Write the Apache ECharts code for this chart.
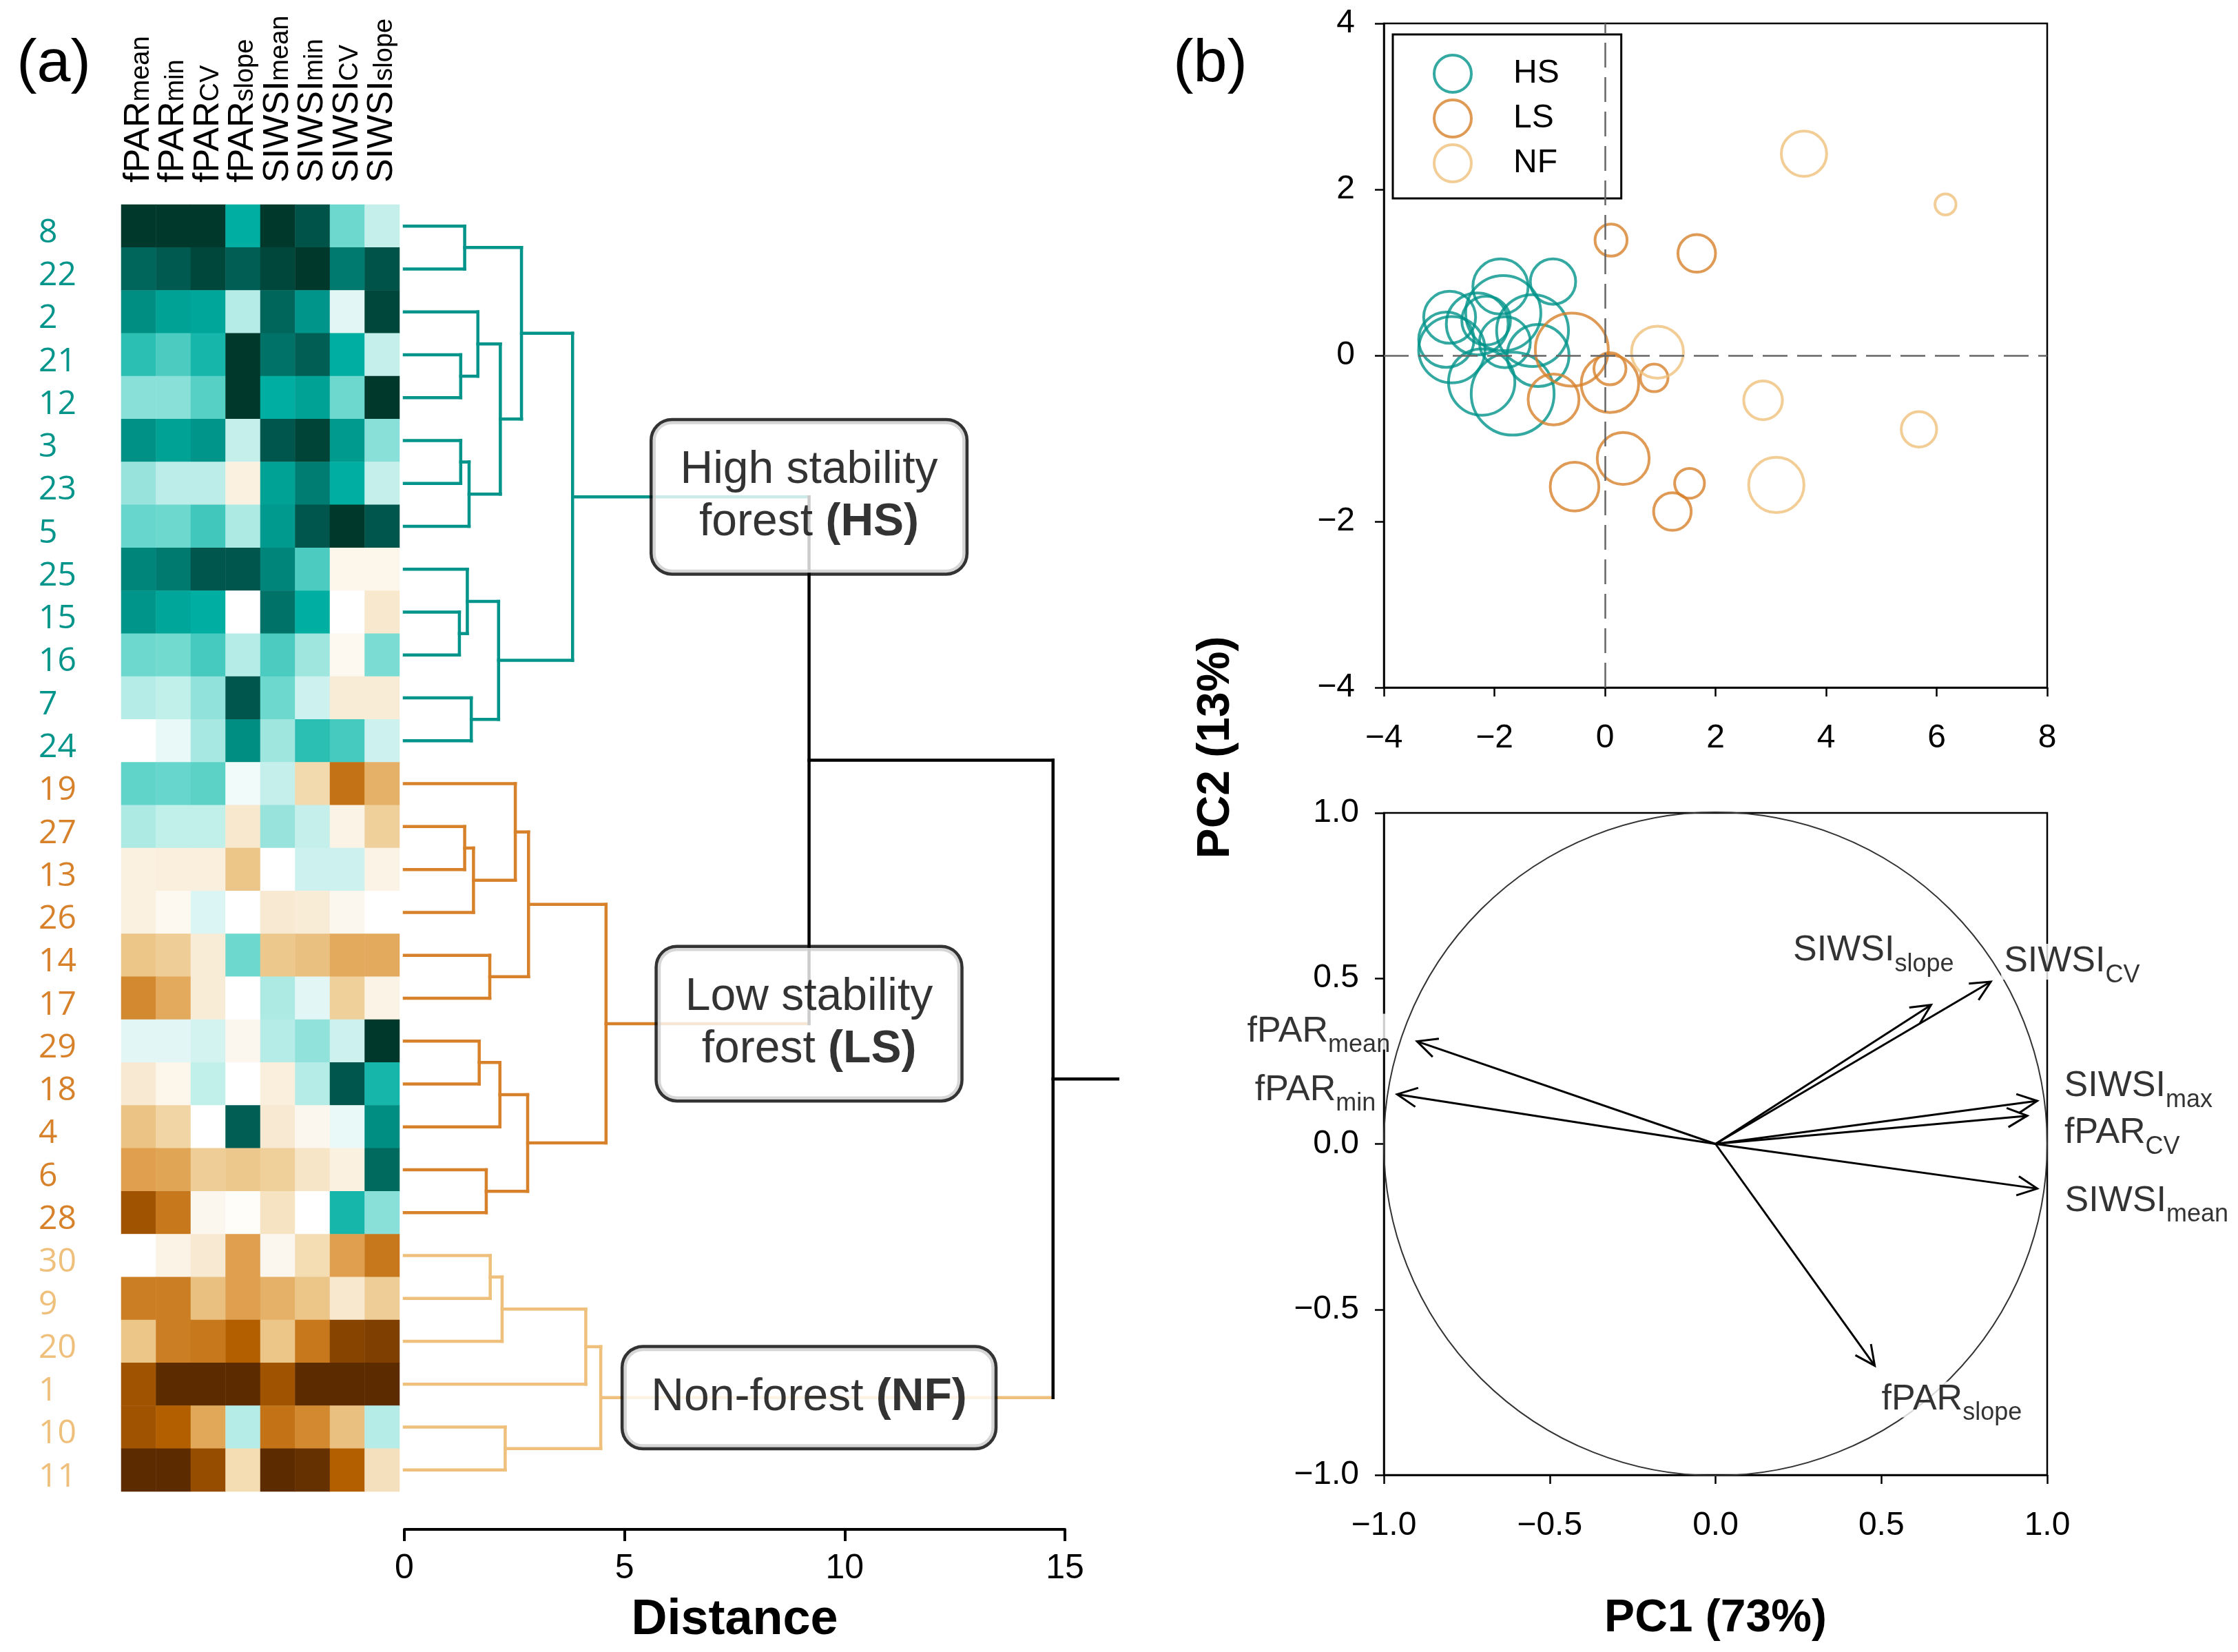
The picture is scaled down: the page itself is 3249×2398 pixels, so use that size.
<!DOCTYPE html>
<html>
<head>
<meta charset="utf-8">
<script src="https://cdn.jsdelivr.net/npm/echarts/dist/echarts.min.js"></script>
<style>html,body{margin:0;padding:0;background:#fff}#c{width:3249px;height:2398px}</style>
</head>
<body>
<div id="c"></div>
<script>
// ---------------- DATA ----------------
const siteLabels = ['8','22','2','21','12','3','23','5','25','15','16','7','24',
  '19','27','13','26','14','17','29','18','4','6','28',
  '30','9','20','1','10','11'];
const siteGroups = ['HS','HS','HS','HS','HS','HS','HS','HS','HS','HS','HS','HS','HS',
  'LS','LS','LS','LS','LS','LS','LS','LS','LS','LS','LS',
  'NF','NF','NF','NF','NF','NF'];
const variableMain = ['fPAR','fPAR','fPAR','fPAR','SIWSI','SIWSI','SIWSI','SIWSI'];
const variableSub  = ['mean','min','CV','slope','mean','min','CV','slope'];

// standardized scores per site (rows) and variable (columns)
const standardizedScores = [
  [5, 5, 5, 2, 5, 4.3, 1, 0.4],
  [3.8, 4.1, 4.6, 4, 4.6, 5, 3.3, 4.3],
  [2.8, 2.3, 2.2, 0.5, 3.8, 2.6, 0.2, 4.6],
  [1.6, 1.3, 1.8, 5, 3.5, 4, 2, 0.4],
  [0.8, 0.8, 1.2, 5, 2, 2.3, 1, 5],
  [2.7, 2.3, 2.6, 0.4, 4.2, 4.7, 2.5, 0.8],
  [0.7, 0.45, 0.45, -0.3, 2.3, 3.2, 2, 0.4],
  [1.05, 1, 1.4, 0.55, 2.5, 4.2, 5, 4.2],
  [3, 3.3, 4.2, 4.2, 3, 1.3, -0.2, -0.2],
  [2.6, 2.2, 2, 0, 3.5, 2, 0, -0.5],
  [1, 0.95, 1.35, 0.5, 1.3, 0.65, -0.15, 0.9],
  [0.5, 0.42, 0.75, 4.2, 1, 0.35, -0.4, -0.4],
  [0, 0.15, 0.6, 2.8, 0.65, 1.6, 1.35, 0.35],
  [1.1, 1.05, 1.15, 0.1, 0.4, -0.8, -2.7, -1.6],
  [0.55, 0.42, 0.42, -0.5, 0.7, 0.4, -0.25, -1],
  [-0.3, -0.35, -0.35, -1.2, 0, 0.35, 0.35, -0.25],
  [-0.3, -0.15, 0.25, 0, -0.45, -0.4, -0.17, 0],
  [-1.2, -1.05, -0.4, 1, -1.15, -1.3, -1.7, -1.7],
  [-2.3, -1.7, -0.4, 0, 0.55, 0.2, -1, -0.25],
  [0.2, 0.2, 0.3, -0.17, 0.5, 0.75, 0.35, 5],
  [-0.45, -0.2, 0.42, 0, -0.35, 0.5, 4.2, 1.8],
  [-1.25, -0.9, 0, 4, -0.45, -0.17, 0.15, 2.8],
  [-1.9, -1.8, -1.05, -1.15, -1, -0.55, -0.3, 3.7],
  [-3.5, -2.6, -0.17, -0.05, -0.6, 0, 1.8, 0.8],
  [0, -0.25, -0.45, -1.9, -0.17, -0.75, -1.9, -2.6],
  [-2.5, -2.5, -1.3, -1.9, -1.6, -1.2, -0.5, -1.05],
  [-1.2, -2.5, -2.6, -3.1, -1.2, -2.6, -4, -4.2],
  [-3.5, -5, -5, -5, -3.5, -5, -5, -5],
  [-3.5, -3.1, -1.75, 0.5, -2.7, -2.3, -1.3, 0.5],
  [-5, -5, -3.7, -0.75, -5, -4.8, -3.1, -0.65]
];

// hierarchical clustering merges: [childA, childB, distance]; 'mK' = result of merge K
const dendroMerges = [
  ['8','22',1.37], ['21','12',1.28], ['2','m1',1.67], ['3','23',1.28], ['m3','5',1.47],
  ['m2','m4',2.18], ['m0','m5',2.66], ['15','16',1.25], ['25','m7',1.43], ['7','24',1.52],
  ['m8','m9',2.14], ['m6','m10',3.82],
  ['27','13',1.37], ['m12','26',1.57], ['19','m13',2.52], ['14','17',1.94], ['m14','m15',2.82],
  ['29','18',1.70], ['m17','4',2.17], ['6','28',1.86], ['m18','m19',2.80], ['m16','m20',4.58],
  ['30','9',1.95], ['m22','20',2.22], ['m23','1',4.12], ['10','11',2.29], ['m24','m25',4.46],
  ['m11','m21',9.19], ['m27','m26',14.73]
];
const dendroRootStubEnd = 16.2;
const distanceTicks = [0, 15, 5];   // min, max, interval
const clusterNames = {HS:['High stability','forest ','(HS)'], LS:['Low stability','forest ','(LS)'], NF:['Non-forest ','(NF)']};
const clusterTopMerge = {HS:'m11', LS:'m21', NF:'m26'};

// PCA site scores: [PC1, PC2, bubble radius in PC1 units]
const pcaHS = [[-0.94,0.89,0.41],[-1.89,0.83,0.50],[-1.84,0.51,0.68],[-2.81,0.46,0.47],[-2.15,0.42,0.44],
  [-1.31,0.30,0.65],[-2.87,0.19,0.50],[-1.81,0.16,0.46],[-2.77,0.07,0.60],[-1.21,0.00,0.56],
  [-2.23,-0.32,0.60],[-1.67,-0.46,0.75],[-2.31,0.38,0.56]];
const pcaLS = [[0.11,1.39,0.29],[1.66,1.23,0.34],[-0.60,0.07,0.66],[0.09,-0.16,0.29],[0.09,-0.34,0.52],
  [0.89,-0.27,0.25],[-0.93,-0.53,0.46],[0.33,-1.24,0.47],[-0.55,-1.58,0.44],[1.53,-1.54,0.27],[1.22,-1.88,0.34]];
const pcaNF = [[3.60,2.43,0.41],[6.16,1.82,0.19],[0.95,0.04,0.47],[2.86,-0.54,0.35],[5.68,-0.89,0.32],[3.10,-1.56,0.50]];

// PCA loadings
const loadingMain = ['fPAR','fPAR','SIWSI','SIWSI','SIWSI','fPAR','SIWSI','fPAR'];
const loadingSub  = ['mean','min','slope','CV','max','CV','mean','slope'];
const loadingPC1  = [-0.90,-0.96,0.65,0.83,0.97,0.94,0.97,0.48];
const loadingPC2  = [0.31,0.15,0.42,0.49,0.13,0.085,-0.135,-0.67];

// ---------------- STYLE / LAYOUT ----------------
const groupColor = {HS:'#00948A', LS:'#D7812A', NF:'#EFC07C', root:'#000000'};
const lay = {
  heat:{left:176, top:297, width:404, height:1868},
  dend:{left:587, top:297, width:959, height:1868},
  sc:{left:2009, top:34, width:963, height:964},
  bi:{left:2009, top:1180, width:963, height:961}
};
const loadingLabelPos = [
  {dx:-35, dy:-14, align:'right'}, {dx:-27, dy:-6, align:'right'},
  {dx:37, dy:-79, align:'right'}, {dx:15, dy:-29, align:'left'},
  {dx:35, dy:-21, align:'left'}, {dx:50, dy:25, align:'left'},
  {dx:36, dy:18, align:'left'}, {dx:6, dy:49, align:'left'}
];
const FONT = 'Liberation Sans';
const INK = '#000';
const minus = v => String(v).replace('-', '\u2212');
const minus1 = v => (v < 0 ? '\u2212' : '') + Math.abs(v).toFixed(1);

// ---------------- BUILD ----------------
const heatData = [];
standardizedScores.forEach((row, r) => row.forEach((v, c) => heatData.push([c, r, v])));

const nodePos = {};
siteLabels.forEach((s, i) => nodePos[s] = {h:0, y:i, g:siteGroups[i]});
const segs = [];
dendroMerges.forEach((m, k) => {
  const A = nodePos[m[0]], B = nodePos[m[1]], h = m[2];
  const g = A.g === B.g ? A.g : 'root';
  segs.push([A.h, A.y, h, A.y, A.g]);
  segs.push([B.h, B.y, h, B.y, B.g]);
  segs.push([h, A.y, h, B.y, g]);
  nodePos['m' + k] = {h:h, y:(A.y + B.y) / 2, g:g};
});
const rootNode = nodePos['m' + (dendroMerges.length - 1)];
segs.push([rootNode.h, rootNode.y, dendroRootStubEnd, rootNode.y, 'root']);
const boxX = dendroMerges[dendroMerges.length - 2][2];

const boxData = ['HS','LS','NF'].map(g => {
  const t = clusterNames[g];
  const fmt = t.length === 3 ? `{n|${t[0]}}\n{n|${t[1]}}{b|${t[2]}}` : `{n|${t[0]}}{b|${t[1]}}`;
  return {value:[boxX, nodePos[clusterTopMerge[g]].y], label:{formatter:fmt}};
});

const pxPerPC1 = lay.sc.width / 12;
function ringSeries(name, data) {
  return {
    name:name, type:'scatter', xAxisIndex:2, yAxisIndex:2, data:data,
    symbol:'circle', symbolSize: v => 2 * v[2] * pxPerPC1,
    itemStyle:{color:'rgba(255,255,255,0)', borderColor:groupColor[name], borderWidth:4},
    z:3
  };
}
const hs = ringSeries('HS', pcaHS);
hs.markLine = {silent:true, symbol:'none', label:{show:false},
  lineStyle:{type:[36,14], color:'#666', width:2.5},
  data:[{xAxis:0},{yAxis:0}]};

const loadingData = loadingPC1.map((x, i) => [x, loadingPC2[i]]);
const loadingLabelData = loadingPC1.map((x, i) => ({
  value:[x, loadingPC2[i]],
  label:{position:[loadingLabelPos[i].dx, loadingLabelPos[i].dy], align:loadingLabelPos[i].align,
    formatter:`{m|${loadingMain[i]}}{s|${loadingSub[i]}}`}
}));

const axisBlack = {show:true, onZero:false, lineStyle:{color:INK, width:2.5}};
const tickBlack = {show:true, length:13, lineStyle:{color:INK, width:2.5}};
const lblStyle = {fontSize:48, color:INK, fontFamily:FONT};

const option = {
  animation:false,
  backgroundColor:'#fff',
  textStyle:{fontFamily:FONT},
  grid:[
    Object.assign({}, lay.heat),
    Object.assign({}, lay.dend),
    Object.assign({show:true, borderColor:INK, borderWidth:2.5}, lay.sc),
    Object.assign({show:true, borderColor:INK, borderWidth:2.5}, lay.bi)
  ],
  xAxis:[
    {type:'category', gridIndex:0, position:'top', data:variableMain.map((m,i)=>m+'_'+variableSub[i]),
      axisLine:{show:false}, axisTick:{show:false}, splitLine:{show:false},
      axisLabel:{interval:0, rotate:-90, margin:32, color:INK,
        formatter:(v, i) => `{m|${variableMain[i]}}{s|${variableSub[i]}}`,
        rich:{m:{fontSize:52, lineHeight:52, verticalAlign:'top', fontFamily:FONT, color:INK},
              s:{fontSize:38, lineHeight:38, padding:[11,0,0,0], verticalAlign:'top', fontFamily:FONT, color:INK}}}},
    {type:'value', gridIndex:1, min:distanceTicks[0], max:distanceTicks[1], interval:distanceTicks[2], position:'bottom', offset:55,
      axisLine:{show:true, onZero:false, lineStyle:{color:INK, width:4}},
      axisTick:{show:true, length:17, lineStyle:{color:INK, width:4}},
      axisLabel:{fontSize:50, color:INK, margin:32, fontFamily:FONT}, splitLine:{show:false},
      name:'Distance', nameLocation:'middle', nameGap:96,
      nameTextStyle:{fontSize:72, fontWeight:'bold', color:INK, fontFamily:FONT}},
    {type:'value', gridIndex:2, min:-4, max:8, interval:2, axisLine:axisBlack, axisTick:tickBlack,
      axisLabel:Object.assign({margin:50, formatter:minus}, lblStyle), splitLine:{show:false}},
    {type:'value', gridIndex:3, min:-1, max:1, interval:0.5, axisLine:axisBlack, axisTick:tickBlack,
      axisLabel:Object.assign({margin:50, formatter:minus1}, lblStyle), splitLine:{show:false},
      name:'PC1 (73%)', nameLocation:'middle', nameGap:176,
      nameTextStyle:{fontSize:66, fontWeight:'bold', color:INK, fontFamily:FONT}}
  ],
  yAxis:[
    {type:'category', gridIndex:0, data:siteLabels, inverse:true,
      axisLine:{show:false}, axisTick:{show:false}, splitLine:{show:false},
      axisLabel:{interval:0, align:'left', margin:120, fontSize:48, fontFamily:'Open Sans',
        formatter:v => `{v|${v}}`,
        rich:{v:{fontSize:48, fontFamily:'Open Sans', lineHeight:48, padding:[20,0,0,0]}},
        color:(v, i) => groupColor[siteGroups[i]]}},
    {type:'value', gridIndex:1, min:-0.5, max:siteLabels.length - 0.5, inverse:true, show:false},
    {type:'value', gridIndex:2, min:-4, max:4, interval:2, axisLine:axisBlack, axisTick:tickBlack,
      axisLabel:Object.assign({margin:42, formatter:minus}, lblStyle), splitLine:{show:false}},
    {type:'value', gridIndex:3, min:-1, max:1, interval:0.5, axisLine:axisBlack, axisTick:tickBlack,
      axisLabel:Object.assign({margin:36, formatter:minus1}, lblStyle), splitLine:{show:false}}
  ],
  visualMap:{type:'continuous', min:-5, max:5, seriesIndex:0, show:false,
    inRange:{color:['#5C2C00','#874400','#B86200','#DD9A45','#F0D09A','#FFFFFF','#6CD8CE','#00AEA2','#00857A','#005E54','#00382B']}},
  legend:{orient:'vertical', left:2022, top:50, itemWidth:54, itemHeight:54, itemGap:7,
    padding:[28, 90, 22, 58], borderColor:INK, borderWidth:3, selectedMode:false,
    textStyle:{fontSize:48, color:INK, fontFamily:FONT, padding:[0,0,0,56]},
    data:['HS','LS','NF'].map(n => ({name:n, icon:'circle',
      itemStyle:{color:'rgba(255,255,255,0)', borderColor:groupColor[n], borderWidth:4}}))},
  graphic:[
    {type:'text', x:78, y:94, style:{text:'(a)', fontSize:88, fontFamily:FONT, fill:INK, align:'center', verticalAlign:'middle'}},
    {type:'text', x:1757, y:94, style:{text:'(b)', fontSize:88, fontFamily:FONT, fill:INK, align:'center', verticalAlign:'middle'}},
    {type:'text', x:1766, y:1085, rotation:Math.PI / 2,
      style:{text:'PC2 (13%)', fontSize:66, fontWeight:'bold', fontFamily:FONT, fill:INK, align:'center', verticalAlign:'middle'}}
  ],
  series:[
    {type:'heatmap', xAxisIndex:0, yAxisIndex:0, data:heatData, itemStyle:{borderWidth:0}, progressive:0},
    {type:'custom', xAxisIndex:1, yAxisIndex:1, clip:false, z:2,
      data:segs.map(s => s.slice(0, 4)),
      renderItem:(params, api) => {
        const p1 = api.coord([api.value(0), api.value(1)]);
        const p2 = api.coord([api.value(2), api.value(3)]);
        return {type:'line', shape:{x1:p1[0], y1:p1[1], x2:p2[0], y2:p2[1]},
          style:{stroke:groupColor[segs[params.dataIndex][4]], lineWidth:4.5, lineCap:'square'}};
      }},
    {type:'scatter', xAxisIndex:1, yAxisIndex:1, data:boxData, symbolSize:0, z:6,
      label:{show:true, position:'inside', align:'center', verticalAlign:'middle',
        backgroundColor:'#fff', borderColor:INK, borderWidth:4.5, borderRadius:28, padding:[34, 40],
        rich:{n:{fontSize:66, lineHeight:76, fontFamily:FONT, color:INK},
              b:{fontSize:66, lineHeight:76, fontWeight:'bold', fontFamily:FONT, color:INK}}}},
    hs, ringSeries('LS', pcaLS), ringSeries('NF', pcaNF),
    {type:'custom', xAxisIndex:3, yAxisIndex:3, z:2, data:[[0, 0, 1]],
      renderItem:(params, api) => {
        const c = api.coord([api.value(0), api.value(1)]);
        const e = api.coord([api.value(2), 0]);
        return {type:'circle', shape:{cx:c[0], cy:c[1], r:e[0] - c[0]},
          style:{stroke:'#333', lineWidth:2, fill:null}};
      }},
    {type:'custom', xAxisIndex:3, yAxisIndex:3, z:3, data:loadingData,
      renderItem:(params, api) => {
        const o = api.coord([0, 0]);
        const t = api.coord([api.value(0), api.value(1)]);
        const ang = Math.atan2(t[1] - o[1], t[0] - o[0]);
        const len = 32, a = 0.45;
        const p1 = [t[0] - len * Math.cos(ang - a), t[1] - len * Math.sin(ang - a)];
        const p2 = [t[0] - len * Math.cos(ang + a), t[1] - len * Math.sin(ang + a)];
        return {type:'group', children:[
          {type:'line', shape:{x1:o[0], y1:o[1], x2:t[0], y2:t[1]}, style:{stroke:INK, lineWidth:3}},
          {type:'polyline', shape:{points:[p1, t, p2]}, style:{stroke:INK, lineWidth:3, fill:null}}
        ]};
      }},
    {type:'scatter', xAxisIndex:3, yAxisIndex:3, data:loadingLabelData, symbolSize:0, z:5,
      label:{show:true, verticalAlign:'middle', backgroundColor:'#fff', padding:[0, 4],
        rich:{m:{fontSize:52, lineHeight:52, verticalAlign:'top', fontFamily:FONT, color:INK},
              s:{fontSize:36, lineHeight:36, padding:[28,0,0,0], verticalAlign:'top', fontFamily:FONT, color:INK}}}}
  ]
};

const chart = echarts.init(document.getElementById('c'), null, {width:3249, height:2398});
chart.setOption(option);
</script>
</body>
</html>
